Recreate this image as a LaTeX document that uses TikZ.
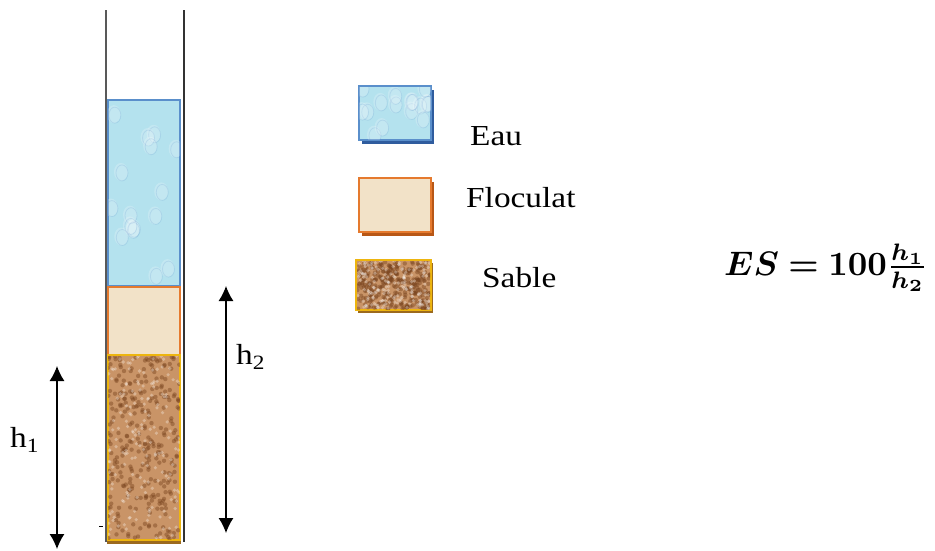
\documentclass[tikz,border=0pt]{standalone}
\usepackage{fontspec}
\usepackage{amsmath}
\usepackage{bm}
\setmainfont{Liberation Serif}[FakeStretch=1.15]
\usetikzlibrary{arrows.meta,shadows}

\definecolor{eaufill}{HTML}{B4E2EE}
\definecolor{eauline}{HTML}{5A8FCB}
\definecolor{eaushade}{HTML}{2F5C9E}
\definecolor{flocfill}{HTML}{F2E2C8}
\definecolor{flocline}{HTML}{E57A2E}
\definecolor{flocshade}{HTML}{B85716}
\definecolor{sabfill}{HTML}{C99467}
\definecolor{sabline}{HTML}{EDB50F}
\definecolor{sabshade}{HTML}{9C6A1E}
\definecolor{grain}{HTML}{7A4520}

\tikzset{
  layer/.style={rectangle,inner sep=0pt,line width=1.4pt,minimum width=72pt},
  swatch/.style={rectangle,inner sep=0pt,line width=1.4pt,minimum width=72pt,minimum height=54pt},
  lbl/.style={font=\fontsize{29}{32}\selectfont,anchor=west,inner sep=0pt},
  dim/.style={line width=1.2pt,<->,>={Latex[length=15pt,width=15pt]}}
}

% grains of sand inside a box: x0, y0, width, height
\newcommand{\sandgrains}[4]{
  \begin{scope}
    \clip (#1,#2) rectangle ++(#3,#4);
    \foreach \i in {1,...,300}{
      \pgfmathsetmacro{\gx}{#1+#3*rnd}
      \pgfmathsetmacro{\gy}{#2+#4*rnd}
      \fill[grain,opacity=0.45] (\gx,\gy) circle (2.2);
    }
    \foreach \i in {1,...,180}{
      \pgfmathsetmacro{\gx}{#1+#3*rnd}
      \pgfmathsetmacro{\gy}{#2+#4*rnd}
      \fill[white,opacity=0.3] (\gx,\gy) circle (1.8);
    }
  \end{scope}
}
% bubbles in the water
\newcommand{\bubbles}[4]{
  \begin{scope}
    \clip (#1,#2) rectangle ++(#3,#4);
    \foreach \i in {1,...,16}{
      \pgfmathsetmacro{\gx}{#1+#3*rnd}
      \pgfmathsetmacro{\gy}{#2+#4*rnd}
      \fill[white,opacity=0.2] (\gx,\gy) ellipse (7 and 9);
      \draw[eauline,opacity=0.18,line width=0.8pt] (\gx+1,\gy+1) ellipse (6 and 8);
    }
  \end{scope}
}

\begin{document}
\begin{tikzpicture}[x=1pt,y=-1pt]
  \pgfmathsetseed{11}
  \useasboundingbox (0,0) rectangle (935,550);

  % test tube
  \draw[gray!70!black,line width=1.2pt] (106,10) -- (106,542);
  \draw[black!80,line width=1.4pt] (184,10) -- (184,542);

  % layers in the tube
  \node[layer,minimum height=186pt,fill=eaufill,draw=eauline] (eau) at (144,193) {};
  \bubbles{108}{101}{72}{184}
  \draw[eaushade,line width=2pt] (eau.south west) -- (eau.south east);
  \node[layer,minimum height=68pt,fill=flocfill,draw=flocline] (floc) at (144,321) {};
  \node[layer,minimum height=185pt,fill=sabfill,draw=sabline] (sable) at (144,447.5) {};
  \sandgrains{108}{356}{72}{183}
  \draw[sabline,line width=1.4pt] (sable.south west) rectangle (sable.north east);
  \draw[sabshade,line width=2.5pt] ([yshift=-2pt]sable.south west) -- ([yshift=-2pt]sable.south east);
  \draw[black,line width=0.8pt] (99,526) -- (103,526);

  % legend
  \node[swatch,fill=eaufill,draw=eauline,drop shadow={shadow xshift=3pt,shadow yshift=-4pt,fill=eaushade,opacity=1}] (legeau) at (395,113) {};
  \bubbles{359}{87}{72}{52}
  \node[swatch,fill=flocfill,draw=flocline,drop shadow={shadow xshift=3pt,shadow yshift=-4pt,fill=flocshade,opacity=1}] (legfloc) at (395,205) {};
  \node[swatch,fill=sabfill,draw=sabline,minimum width=75pt,minimum height=50pt,drop shadow={shadow xshift=2pt,shadow yshift=-3pt,fill=sabshade,opacity=1}] (legsable) at (393.5,285) {};
  \sandgrains{357}{261}{73}{48}

  \node[lbl] (teau) at (470,136) {Eau};
  \node[lbl] (tfloc) at (466,198) {Floculat};
  \node[lbl] (tsable) at (482,278) {Sable};

  % heights
  \coordinate (h1top) at (57,366);
  \coordinate (h1bot) at (57,549);
  \coordinate (h2top) at (226,286);
  \coordinate (h2bot) at (226,533);
  \draw[dim] (h1top) -- (h1bot);
  \draw[dim] (h2top) -- (h2bot);
  \node[lbl] (lh1) at (10,440) {h\textsubscript{1}};
  \node[lbl] (lh2) at (236,357) {h\textsubscript{2}};

  % formula
  \node (es) at (826,268) {\scalebox{3.4}{$\boldsymbol{ES = 100\tfrac{h_1}{h_2}}$}};
\end{tikzpicture}
\end{document}
